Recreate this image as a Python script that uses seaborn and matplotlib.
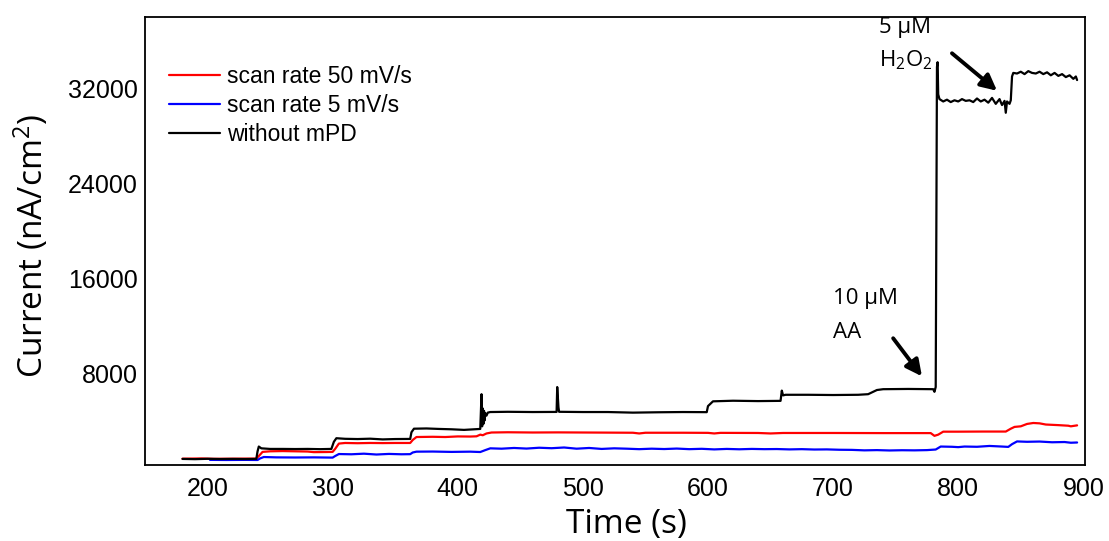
import matplotlib
matplotlib.use("Agg")
import matplotlib.pyplot as plt
import seaborn as sns
import pandas as pd

# --- amperometric traces (time in s, current density in nA/cm^2) ---
t_black = [180, 190, 200, 210, 220, 230, 239, 240, 241, 243, 250, 260, 270, 280, 290, 299,
           301, 303, 310, 320, 330, 340, 350, 362, 363, 365, 375, 385, 395, 405, 418,
           419, 419.5, 420, 420.5, 421, 421.5, 422, 423, 424, 426, 440, 460, 479, 479.5,
           480.5, 481, 500, 520, 540, 560, 580, 599, 600, 602, 604, 620, 640, 658, 659,
           660, 662, 680, 700, 720, 728, 735, 740, 760, 780, 781, 782, 782.5, 783, 783.5,
           784, 785, 788, 791, 794, 797, 800, 803, 806, 809, 812, 815, 818, 821, 824, 827,
           830, 833, 835, 837, 838, 839, 841, 842, 843, 844, 847, 850, 853, 856, 859, 862,
           865, 868, 871, 874, 877, 880, 883, 886, 889, 892, 894, 895]
i_black = [860, 840, 870, 850, 860, 850, 860, 1500, 1900, 1750, 1700, 1700, 1690, 1700, 1680, 1700,
           2300, 2600, 2550, 2530, 2560, 2500, 2530, 2540, 3100, 3400, 3420, 3380, 3350, 3300, 3380,
           6300, 3600, 5100, 3800, 4900, 4100, 4700, 4500, 4750, 4800, 4820, 4800, 4810, 6900,
           5200, 4820, 4800, 4800, 4750, 4780, 4800, 4790, 5300, 5500, 5700, 5750, 5720, 5740, 6600,
           6200, 6250, 6250, 6230, 6250, 6300, 6650, 6720, 6740, 6720, 6500, 6900, 20000, 33800, 34200,
           31500, 31100, 30900, 31050, 30850, 31000, 30900, 31100, 30950, 31000, 30850, 31150, 30900, 31050, 30800, 31200,
           30700, 31100, 30600, 30950, 29950, 30900, 30700, 31000, 33000, 33300, 33250, 33400, 33200, 33450, 33300, 33250,
           33400, 33200, 33350, 33100, 33300, 33050, 33200, 32950, 33100, 32800, 33000, 32700]

t_red = [180, 195, 205, 220, 239, 241, 244, 250, 260, 270, 280, 285, 295, 300, 302, 305, 310, 320,
         330, 340, 350, 362, 364, 367, 380, 390, 400, 410, 415, 418, 420, 423, 427, 440, 460, 480,
         500, 520, 540, 545, 550, 580, 600, 605, 610, 640, 650, 660, 700, 740, 778, 781, 784, 788,
         800, 820, 838, 842, 845, 850, 855, 860, 865, 870, 880, 888, 890, 895]
i_red = [880, 900, 870, 880, 890, 1100, 1450, 1500, 1520, 1500, 1480, 1430, 1440, 1450, 1700, 2150, 2200, 2180,
         2200, 2190, 2200, 2200, 2450, 2700, 2720, 2700, 2750, 2740, 2760, 2900, 2850, 3000, 3080, 3100, 3080, 3090,
         3080, 3070, 3060, 3000, 3060, 3060, 3050, 3000, 3050, 3040, 3000, 3040, 3040, 3030, 3030, 2800, 2900, 3150,
         3150, 3160, 3160, 3400, 3550, 3600, 3800, 3880, 3850, 3750, 3700, 3650, 3600, 3680]

t_blue = [202, 215, 230, 240, 242, 245, 255, 270, 285, 300, 302, 305, 315, 325, 335, 345, 355, 362,
          364, 367, 380, 395, 410, 418, 422, 426, 435, 445, 455, 465, 475, 485, 495, 505, 515, 525,
          535, 545, 555, 565, 575, 585, 595, 605, 615, 625, 635, 645, 655, 665, 675, 685, 695, 705,
          715, 725, 735, 745, 755, 765, 775, 782, 786, 795, 800, 805, 815, 825, 835, 840, 843, 847,
          855, 865, 875, 885, 890, 895]
i_blue = [780, 770, 780, 770, 900, 1020, 990, 980, 990, 970, 1100, 1270, 1250, 1300, 1230, 1280, 1250, 1260,
          1400, 1470, 1480, 1450, 1470, 1440, 1600, 1750, 1720, 1780, 1730, 1800, 1760, 1820, 1720, 1780, 1700, 1750,
          1720, 1680, 1720, 1690, 1730, 1680, 1710, 1660, 1700, 1670, 1700, 1680, 1690, 1660, 1680, 1650, 1660, 1630,
          1620, 1580, 1600, 1570, 1590, 1580, 1600, 1650, 1900, 1880, 1850, 1900, 1880, 1950, 1900, 1870, 2100, 2330,
          2300, 2320, 2260, 2280, 2220, 2240]

labels = ["scan rate 50 mV/s", "scan rate 5 mV/s", "without mPD"]
colors = ["#ff0000", "#0000ff", "#000000"]

df = pd.concat([
    pd.DataFrame({"t": t_red, "I": i_red, "series": labels[0]}),
    pd.DataFrame({"t": t_blue, "I": i_blue, "series": labels[1]}),
    pd.DataFrame({"t": t_black, "I": i_black, "series": labels[2]}),
], ignore_index=True)

sns.set_style("white", {"text.color": "black", "axes.labelcolor": "black",
                        "xtick.color": "black", "ytick.color": "black"})
plt.rcParams["font.family"] = ["Liberation Sans", "DejaVu Sans"]
plt.rcParams["mathtext.default"] = "regular"

fig = plt.figure(figsize=(11.09, 5.41), dpi=100)
ax = fig.add_axes([0.1307, 0.1405, 0.8473, 0.8281])

sns.lineplot(data=df, x="t", y="I", hue="series", hue_order=labels,
             palette=dict(zip(labels, colors)), estimator=None, sort=False,
             linewidth=1.6, ax=ax)

ax.set_xlim(150, 901)
ax.set_ylim(350, 38000)
ax.set_xticks([200, 300, 400, 500, 600, 700, 800, 900])
ax.set_yticks([8000, 16000, 24000, 32000])
ax.tick_params(direction="in", length=8, width=1.4, labelsize=18, colors="black")
ax.tick_params(axis="x", pad=9)
ax.tick_params(axis="y", pad=5)
for s in ax.spines.values():
    s.set_visible(True)
    s.set_color("black")
    s.set_linewidth(1.3)

lab_font = dict(family=["Open Sans", "DejaVu Sans"], size=24, color="black")
ax.set_xlabel("Time (s)", fontdict=lab_font, va="center")
ax.set_ylabel("Current (nA/cm$^2$)", fontdict=lab_font, va="center")
ax.xaxis.set_label_coords(0.512, -0.132)
ax.yaxis.set_label_coords(-0.121, 0.489)

leg = ax.legend(loc="upper left", bbox_to_anchor=(0.0255, 0.892), frameon=False,
                fontsize=16.5, handlelength=2.25, handletextpad=0.3,
                labelspacing=0.25, borderaxespad=0.0, borderpad=0.0)
for h in leg.get_lines():
    h.set_linewidth(1.6)
for txt in leg.get_texts():
    txt.set_color("black")

ann_font = dict(family=["Open Sans", "DejaVu Sans"], size=16, color="black")
ax.text(700, 14300, "10 µM", ha="left", va="center", **ann_font)
ax.text(700, 11500, "AA", ha="left", va="center", **ann_font)
ax.annotate("", xy=(771, 7800), xytext=(748, 11000),
            arrowprops=dict(arrowstyle="-|>", lw=2.8, color="black",
                            mutation_scale=24, shrinkA=0, shrinkB=0))

ax.text(737, 37100, "5 µM", ha="left", va="center", **ann_font)
ax.text(737, 34350, "H$_2$O$_2$", ha="left", va="center", **ann_font)
ax.annotate("", xy=(831, 31800), xytext=(795, 34950),
            arrowprops=dict(arrowstyle="-|>", lw=2.8, color="black",
                            mutation_scale=24, shrinkA=0, shrinkB=0))

fig.savefig("out.png", dpi=100)
